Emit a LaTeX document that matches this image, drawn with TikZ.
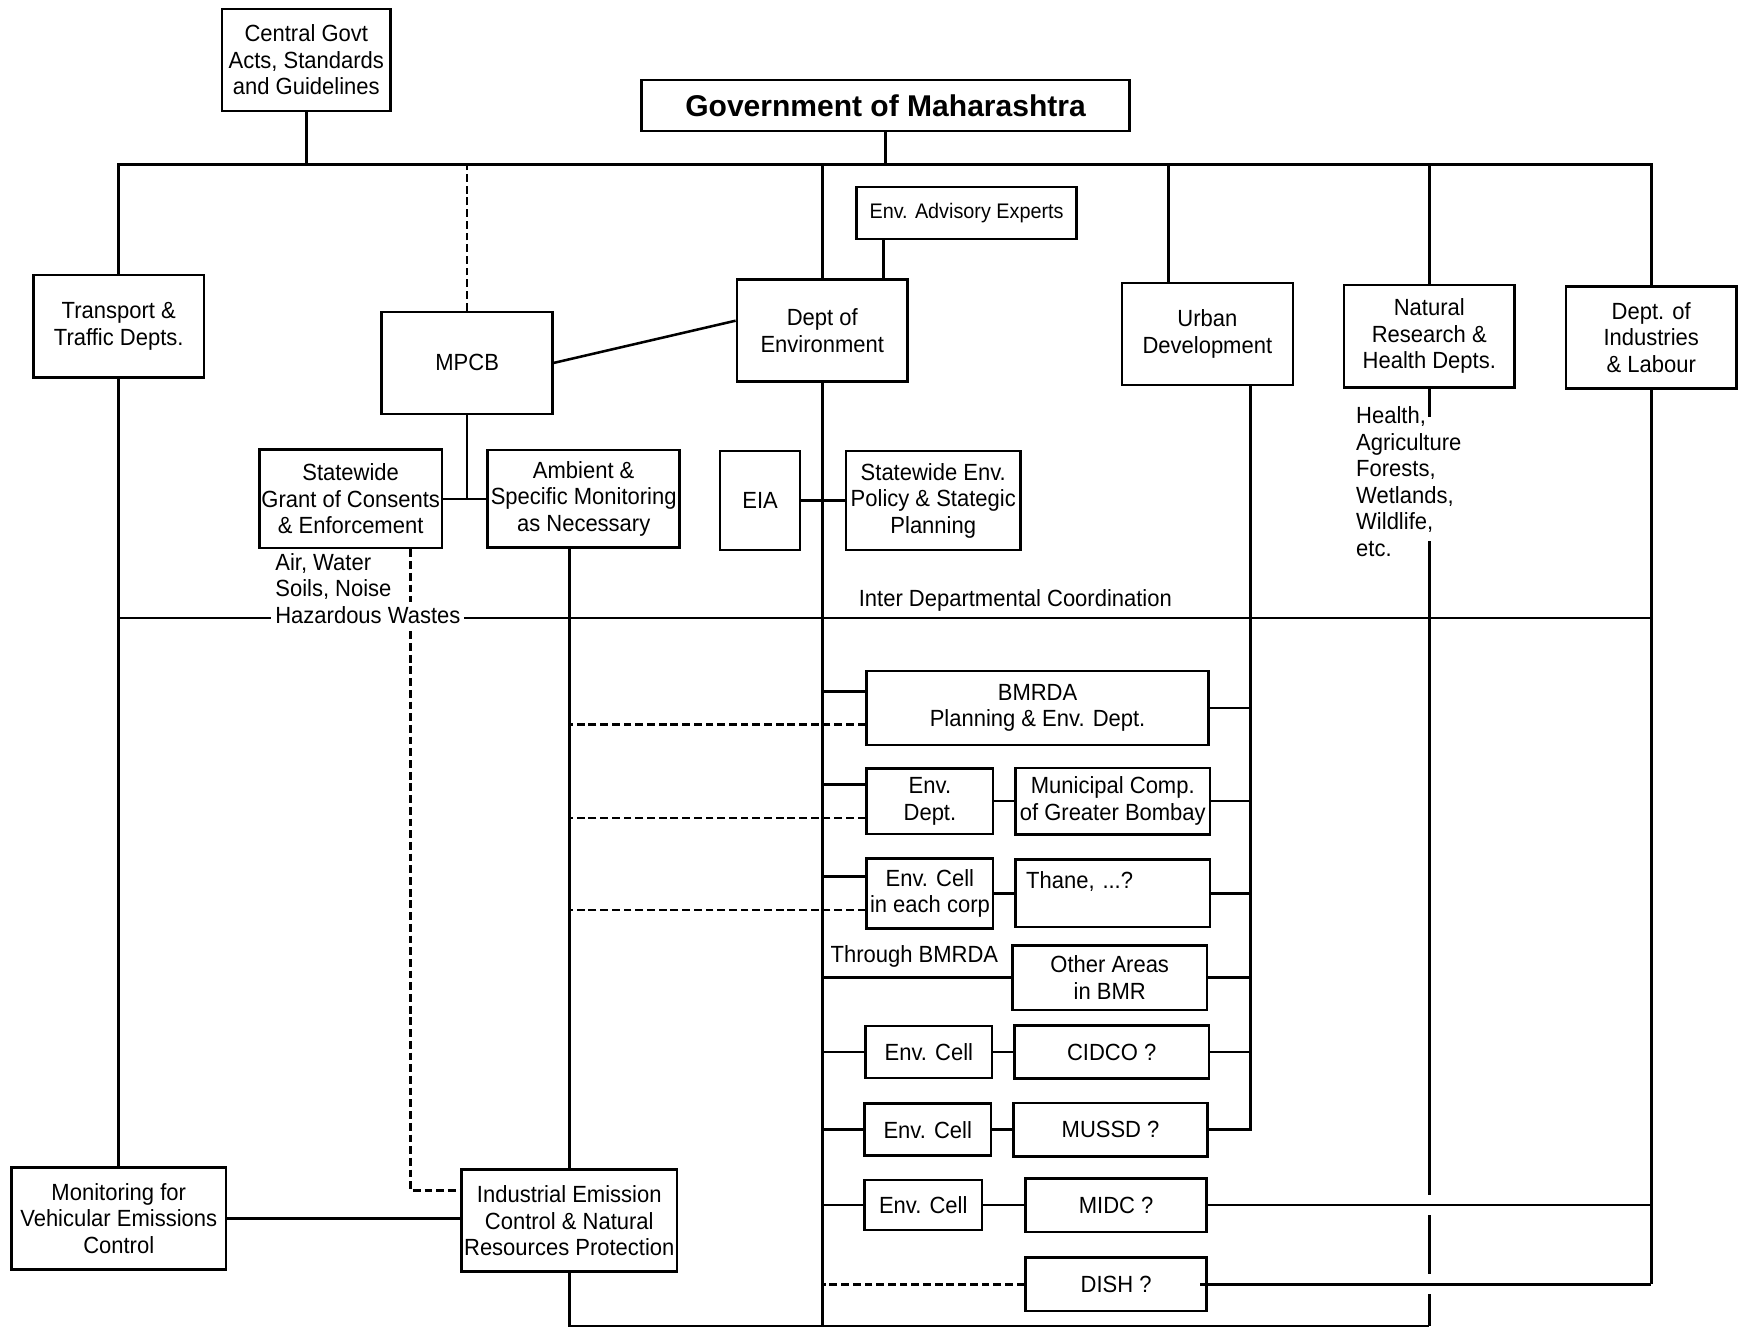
\documentclass[tikz,border=0pt]{standalone}
\usepackage{fontspec}
\setmainfont{Liberation Sans}[FakeStretch=0.94]
\newfontfamily\titlefont{Liberation Sans}
\usetikzlibrary{positioning}
\setlength{\fboxsep}{2pt}

\begin{document}
\begin{tikzpicture}[x=0.2mm, y=-0.2mm, line width=1.3pt,
    every node/.style={font=\fontsize{12}{13.6}\selectfont},
    box/.style={draw, align=center, inner sep=1pt},
    dept/.style={box, minimum width=30.8mm, minimum height=18.4mm},
    cellbox/.style={box, minimum width=22.8mm, minimum height=9.4mm},
    unitbox/.style={box, minimum width=35mm, minimum height=9.6mm},
    dashline/.style={dash pattern=on 4pt off 2pt},
    thinline/.style={line width=0.9pt}]
\useasboundingbox (0,0) rectangle (1568,1198);

% top level
\node[box, minimum width=30.4mm, minimum height=18.4mm] (central) at (276,54) {Central Govt\\Acts, Standards\\and Guidelines};
\node[box, minimum width=88mm, minimum height=9.2mm, font=\titlefont\fontsize{15.4}{18}\selectfont\bfseries] (govt) at (798,95) {Government of Maharashtra};

% departments
\node[dept] (transport) at (107,294) {Transport \&\\Traffic Depts.};
\node[dept] (mpcb) at (421,327) {MPCB};
\node[dept] (deptenv) at (741,298) {Dept of\\Environment};
\node[box, minimum width=39.6mm, minimum height=9.4mm, font=\fontsize{10.8}{12}\selectfont] (advisory) at (871,192) {Env. Advisory Experts};
\node[dept] (urban) at (1088,301) {Urban\\Development};
\node[dept] (natural) at (1288,303) {Natural\\Research \&\\Health Depts.};
\node[dept] (industries) at (1488,304) {Dept. of\\Industries\\\& Labour};

\node[box, minimum width=32.8mm, minimum height=17.8mm] (grant) at (316,449.5) {Statewide\\Grant of Consents\\\& Enforcement};
\node[box, minimum width=34.6mm, minimum height=17.6mm] (ambient) at (526,449.5) {Ambient \&\\Specific Monitoring\\as Necessary};
\node[box, minimum width=14.4mm, minimum height=17.8mm] (eia) at (685,451) {EIA};
\node[box, minimum width=31.4mm, minimum height=17.8mm] (policy) at (841,451) {Statewide Env.\\Policy \& Stategic\\Planning};

% local bodies
\node[box, minimum width=61.6mm, minimum height=13.4mm] (bmrda) at (935,638) {BMRDA\\Planning \& Env. Dept.};
\node[cellbox, minimum height=11.8mm] (envdept) at (838,722) {Env.\\Dept.};
\node[unitbox, minimum height=12mm, right=3.6mm of envdept] (mcgb) {Municipal Comp.\\of Greater Bombay};
\node[cellbox, minimum height=12.6mm] (cellcorp) at (838,805) {Env. Cell\\in each corp};
\node[unitbox, minimum height=12.2mm, text width=31.2mm, align=left, inner xsep=1.8mm, right=3.6mm of cellcorp] (thane) {Thane, ...?\\\mbox{}};
\node[unitbox, minimum height=11.6mm] (other) at (1000,881) {Other Areas\\in BMR};
\node[cellbox] (cell1) at (837,948) {Env. Cell};
\node[unitbox, right=3.6mm of cell1] (cidco) {CIDCO ?};
\node[cellbox] (cell2) at (836,1018) {Env. Cell};
\node[unitbox, right=3.6mm of cell2] (mussd) {MUSSD ?};
\node[cellbox, minimum width=21.2mm, minimum height=9mm] (cell3) at (832,1086) {Env. Cell};
\node[unitbox, minimum width=32.6mm, right=7.4mm of cell3] (midc) {MIDC ?};
\node[unitbox, minimum width=32.6mm, below=4.2mm of midc] (dish) {DISH ?};

\node[box, minimum width=38.6mm, minimum height=18.4mm] (vehicular) at (107,1098) {Monitoring for\\Vehicular Emissions\\Control};
\node[box, minimum width=38.8mm, minimum height=18.4mm] (industrial) at (513,1100) {Industrial Emission\\Control \& Natural\\Resources Protection};

\node[inner sep=0, align=left, anchor=west] (hlth) at (1221,434) {Health,\\Agriculture\\Forests,\\Wetlands,\\Wildlife,\\etc.};
\node (idclabel) at (915,541) {Inter Departmental Coordination};
\node (through) at (824,862) {Through BMRDA};

% bus from the government
\coordinate (busR) at (1488,148);
\coordinate (bot) at (1288,1195);
\draw (transport.north) |- (busR) -- (industries.north);
\foreach \n in {central, govt, deptenv, natural}
    \draw (\n) -- (\n |- busR);
\draw[dashline] (mpcb) -- (mpcb |- busR);
\coordinate (urbT) at ([xshift=-7mm]urban.north);
\draw (urbT) -- (urbT |- busR);
\coordinate (advB) at ([xshift=-15mm]advisory.south);
\draw (advB) -- (advB |- deptenv.north);

% environment department
\draw (mpcb.east) -- ([yshift=1.8mm]deptenv.west);
\draw (mpcb) -- (mpcb |- grant.east);
\draw (grant) -- (ambient);
\draw (eia) -- (policy);
\draw (deptenv) -- (deptenv |- bot);
\draw (industrial) -- (industrial |- bot) -- (bot);

% natural research line, broken where it crosses
\draw (natural) -- ([yshift=-2mm]natural |- hlth.north);
\draw ([yshift=3mm]natural |- hlth.south) -- ([yshift=1.8mm]natural |- midc);
\draw ([yshift=-1.8mm]natural |- midc) -- ([yshift=1.8mm]natural |- dish);
\draw ([yshift=-1.8mm]natural |- dish) -- (bot);

% industries line
\draw (industries) -- (industries |- dish);
\draw (midc) -- (midc -| industries);
\draw ([xshift=-1.4mm]dish.east) -- (dish -| industries);

% urban development line
\coordinate (urbB) at ([xshift=7.8mm]urban.south);
\draw (urbB) |- (mussd);
\foreach \n in {bmrda, mcgb, thane, other, cidco}
    \draw (\n) -- (\n -| urbB);

% links to the department line
\coordinate (ambB) at ([xshift=-2.6mm]ambient.south);
\draw (ambB) -- (ambB |- industrial.north);
\foreach \n in {bmrda, envdept, cellcorp}{
    \draw ([yshift=3mm]\n.west) -- ([yshift=3mm]\n.west -| deptenv);
    \draw[dashline] ([yshift=-3mm]\n.west) -- ([yshift=-3mm]\n.west -| ambB);}
\foreach \n in {cell1, cell2, cell3, other}
    \draw (\n) -- (\n -| deptenv);
\draw[dashline] (dish) -- (dish -| deptenv);
\foreach \a/\b in {envdept/mcgb, cellcorp/thane, cell1/cidco, cell2/mussd, cell3/midc}
    \draw (\a) -- (\b);

% transport and monitoring
\draw[dashline] ([xshift=10.8mm]grant.south) |- ([yshift=5.4mm]industrial.west);
\draw (transport) -- (vehicular);
\draw (vehicular) -- (vehicular -| industrial.west);

% inter departmental line
\coordinate (idc) at (107,557);
\draw[thinline] (idc) -- (idc -| industries);
\node[inner sep=0, align=left, anchor=west] (media) at (247,532) {Air, Water\\Soils, Noise\\\kern-2pt\colorbox{white}{Hazardous Wastes}};
\end{tikzpicture}
\end{document}
